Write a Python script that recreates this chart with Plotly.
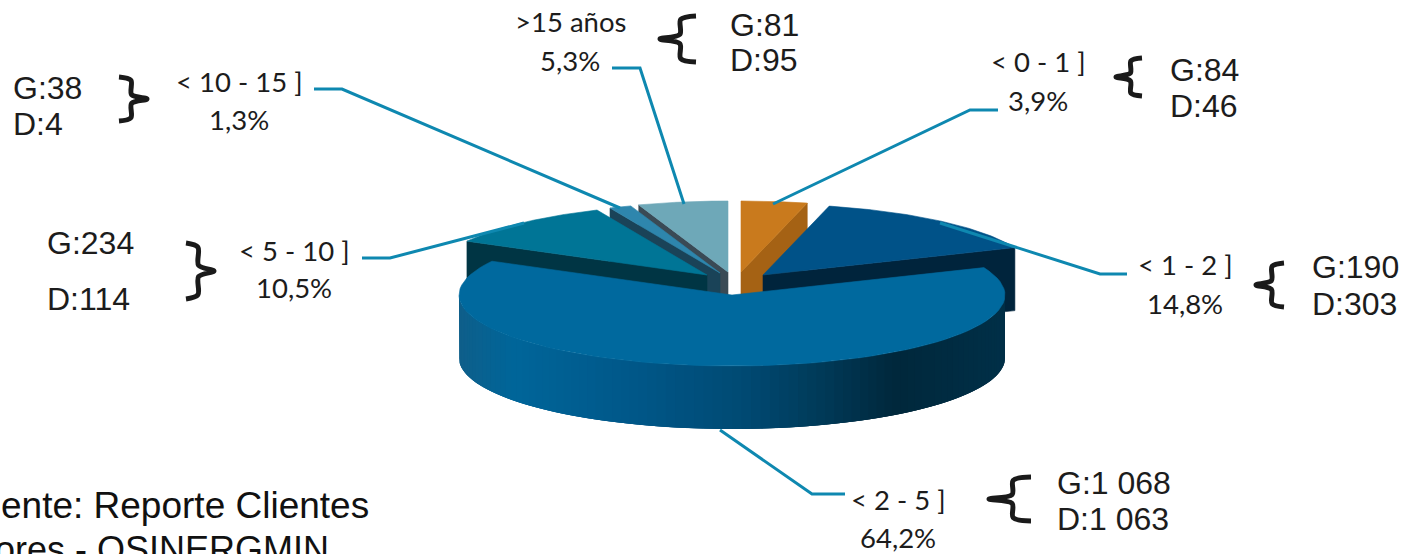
import numpy as np
import plotly.graph_objects as go

# ---------- data ----------
categories = ["< 0 - 1 ]", "< 1 - 2 ]", "< 2 - 5 ]", "< 5 - 10 ]", "< 10 - 15 ]", ">15 años"]
percent = [3.9, 14.8, 64.2, 10.5, 1.3, 5.3]
g_values = [84, 190, 1068, 234, 38, 81]
d_values = [46, 303, 1063, 114, 4, 95]

# ---------- style / layout ----------
W, H = 1406, 554
CX, CY, RX, RY, DEPTH = 732, 295, 273, 71, 63
offset = [(9, -23), (31, -20), (0, 0), (-25, -20), (-12, -22), (-4, -23)]
top_col = ["#c97a1d", "#005288", "#00699e", "#007596", "#2e86ad", "#6ea8b8"]
side_col = ["#a56214", "#00243c", "#00243c", "#003544", "#1a4358", "#3a4a55"]
wall_stops = [(0, "#0f5f8a"), (.1, "#00669a"), (.31, "#00588a"), (.525, "#004a73"),
              (.665, "#003a58"), (.8, "#00283c"), (1, "#003048")]
LINE = "#0e88b0"
LBL = dict(family="Lato, sans-serif", size=27.5, color="#1c1c1c")
GD = dict(family="Liberation Sans, Arial", size=32, color="#1c1c1c")

# label layout: (label centre x, y line1, y line2), (G/D left x, y G, y D),
# leader path, brace (x, y, w, h, direction)
label_pos = [(1038, 61, 100), (1185, 264, 303), (898, 499, 537),
             (294, 250, 287), (239, 81, 119), (570, 21, 60)]
gd_pos = [(1168, 70, 106), (1310, 267, 304), (1055, 483, 519),
          (45, 243, 299), (11, 88, 124), (728, 25, 60)]
leaders = [[(998, 110), (970, 110), (773, 204)],
           [(1127, 274), (1100, 274), (940, 223)],
           [(845, 494), (812, 494), (720, 430)],
           [(362, 258), (390, 258), (524, 223)],
           [(314, 89), (342, 89), (620, 208)],
           [(612, 68), (640, 68), (684, 204)]]
braces = [(1129, 77, 26, 38, -1), (1270, 285, 28, 44, -1), (1010, 499, 42, 44, -1),
          (200, 271, 28, 56, 1), (133, 99, 28, 44, 1), (678, 39, 36, 46, -1)]


def hex2rgb(c):
    return np.array([int(c[i:i + 2], 16) for i in (1, 3, 5)], float)


def wall_colour(t):
    for (a, ca), (b, cb) in zip(wall_stops, wall_stops[1:]):
        if t <= b:
            m = (t - a) / (b - a)
            r = hex2rgb(ca) * (1 - m) + hex2rgb(cb) * m
            return "rgb(%d,%d,%d)" % tuple(r)
    return wall_stops[-1][1]


def pt(ax, ay, deg):
    rad = np.radians(deg)
    return ax + RX * np.sin(rad), ay - RY * np.cos(rad)


fig = go.Figure()


def poly(xs, ys, colour, lw=0.6):
    fig.add_trace(go.Scatter(x=list(xs), y=list(ys), mode="lines", fill="toself",
                             fillcolor=colour, line=dict(color=colour, width=lw),
                             hoverinfo="skip", showlegend=False))


edges = np.concatenate([[0], np.cumsum(percent)]) * 3.6


def cut_face(i, deg):
    ax, ay = CX + offset[i][0], CY + offset[i][1]
    ex, ey = pt(ax, ay, deg)
    poly([ax, ex, ex, ax, ax], [ay, ey, ey + DEPTH, ay + DEPTH, ay], side_col[i])


def top_face(i):
    ax, ay = CX + offset[i][0], CY + offset[i][1]
    th = np.linspace(edges[i], edges[i + 1], 80)
    xs, ys = pt(ax, ay, th)
    poly(np.r_[ax, xs, ax], np.r_[ay, ys, ay], top_col[i])


# painter's order, back slices first
cut_face(5, edges[5]); top_face(5)
cut_face(4, edges[4]); top_face(4)
cut_face(3, edges[3]); top_face(3)
cut_face(0, edges[1]); top_face(0)
cut_face(1, edges[2]); top_face(1)

# big slice: shaded outer wall (each band runs past the next, so no seams), then top
wall_edges = np.linspace(90, 270, 91)
for k in range(90):
    a = wall_edges[k]
    b = wall_edges[min(k + 3, 90)]
    th = np.linspace(a, b, 6)
    xs, ys = pt(CX, CY, th)
    xm = pt(CX, CY, 0.5 * (wall_edges[k] + wall_edges[k + 1]))[0]
    t = (xm - (CX - RX)) / (2 * RX)
    poly(np.r_[xs, xs[::-1], xs[0]], np.r_[ys, ys[::-1] + DEPTH, ys[0]], wall_colour(t), lw=0)
top_face(2)

# leaders
for path in leaders:
    fig.add_trace(go.Scatter(x=[p[0] for p in path], y=[p[1] for p in path], mode="lines",
                             line=dict(color=LINE, width=3), hoverinfo="skip", showlegend=False))

# braces
for x, y, w, h, s in braces:
    hw, hh = w / 2, h / 2
    bx = [x + s * (-hw), x + s * (-hw * .15), x + s * (-hw * .1), x + s * hw,
          x + s * (-hw * .1), x + s * (-hw * .15), x + s * (-hw)]
    by = [y - hh, y - hh * .85, y - hh * .2, y, y + hh * .2, y + hh * .85, y + hh]
    fig.add_trace(go.Scatter(x=bx, y=by, mode="lines", line=dict(color="#1a1a1a", width=5, shape="spline", smoothing=.9),
                             hoverinfo="skip", showlegend=False))


def note(x, y, text, font, anchor="center"):
    fig.add_annotation(x=x, y=y, text=text, showarrow=False, font=font,
                       xanchor=anchor, yanchor="middle", xref="x", yref="y")


def fmt(v):
    s = str(v)
    return s[:-3] + " " + s[-3:] if v >= 1000 else s


for i, cat in enumerate(categories):
    lx, y1, y2 = label_pos[i]
    note(lx, y1, cat, LBL)
    note(lx, y2, f"{percent[i]:.1f}%".replace(".", ","), LBL)
    gx, gy, dy = gd_pos[i]
    note(gx, gy, f"G:{fmt(g_values[i])}", GD, "left")
    note(gx, dy, f"D:{fmt(d_values[i])}", GD, "left")

SRC = dict(family="Liberation Sans, Arial", size=37, color="#111111")
note(371, 505, "ente: Reporte Clientes", SRC, "right")
note(331, 549, "ores - OSINERGMIN", dict(SRC, size=36), "right")

fig.update_layout(width=W, height=H, margin=dict(l=0, r=0, t=0, b=0), autosize=False,
                  paper_bgcolor="white", plot_bgcolor="white",
                  xaxis=dict(range=[0, W], visible=False, fixedrange=True),
                  yaxis=dict(range=[H, 0], visible=False, fixedrange=True))
fig.write_html("out.html", config={"displayModeBar": False},
               post_script="document.body.style.margin='0';document.body.style.overflow='hidden';")
